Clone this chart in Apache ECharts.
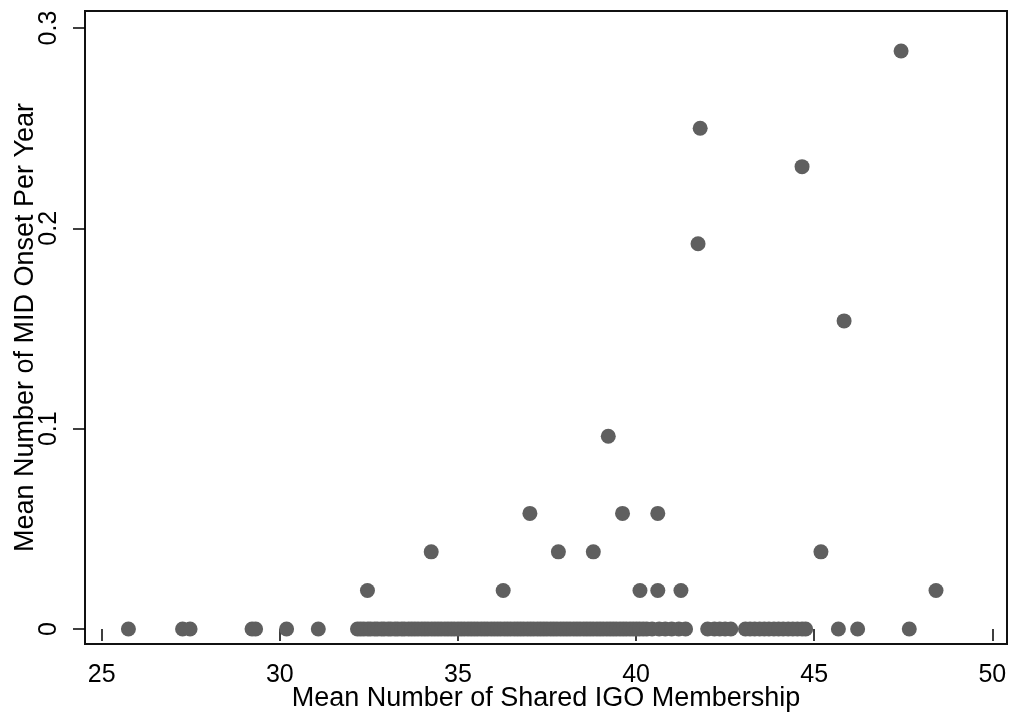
<!DOCTYPE html>
<html>
<head>
<meta charset="utf-8">
<script src="https://cdn.jsdelivr.net/npm/echarts@6/dist/echarts.min.js"></script>
<style>
html,body{margin:0;padding:0;background:#fff;}
#chart{width:1013px;height:723px;}
</style>
</head>
<body>
<div id="chart"></div>
<script>
// Points with zero MID onsets (at y = 0)
var zeroX = [25.75, 27.27, 27.48, 29.22, 29.32, 30.19, 31.08,
  32.18, 32.27, 32.36, 32.47, 32.55, 32.66, 32.74, 32.85, 32.93, 33.04, 33.12, 33.23,
  33.31, 33.42, 33.5, 33.61, 33.7, 33.79, 33.88, 33.98, 34.07, 34.16, 34.26, 34.35,
  34.44, 34.53, 34.63, 34.72, 34.81, 34.9, 35.0, 35.09, 35.18, 35.28, 35.37, 35.46,
  35.55, 35.65, 35.74, 35.83, 35.93, 36.02, 36.11, 36.2, 36.3, 36.39, 36.48, 36.58,
  36.67, 36.76, 36.85, 36.95, 37.04, 37.13, 37.23, 37.32, 37.41, 37.5, 37.6, 37.69,
  37.78, 37.88, 37.97, 38.06, 38.15, 38.25, 38.34, 38.43, 38.53, 38.62, 38.71, 38.8,
  38.9, 38.99, 39.08, 39.18, 39.27, 39.36, 39.45, 39.55, 39.64, 39.73, 39.83, 39.92,
  40.01, 40.1, 40.2, 40.3, 40.45, 40.65, 40.82, 41.0, 41.2, 41.39,
  42.01, 42.2, 42.35, 42.5, 42.66, 43.07, 43.2, 43.33, 43.47, 43.6, 43.73, 43.87,
  44.0, 44.13, 44.27, 44.4, 44.53, 44.66, 44.76,
  45.68, 46.22, 47.67];
// Points with non-zero MID onsets
var nzX = [32.46, 34.25, 36.27, 37.02, 37.82, 38.80, 39.22, 39.62, 40.11, 40.61, 40.61, 41.26,
  41.74, 41.80, 44.66, 45.19, 45.84, 47.44, 48.42];
var nzY = [0.0192, 0.0385, 0.0192, 0.0577, 0.0385, 0.0385, 0.0962, 0.0577, 0.0192, 0.0577, 0.0192, 0.0192,
  0.1923, 0.25, 0.2308, 0.0385, 0.1538, 0.2885, 0.0192];
var xTicks = [25, 30, 35, 40, 45, 50];
var yTicks = [0, 0.1, 0.2, 0.3];
var xTitle = 'Mean Number of Shared IGO Membership';
var yTitle = 'Mean Number of MID Onset Per Year';

var data = [];
zeroX.forEach(function (x) { data.push([x, 0]); });
nzX.forEach(function (x, i) { data.push([x, nzY[i]]); });

var font = 'Liberation Sans, Arial, sans-serif';
var chart = echarts.init(document.getElementById('chart'), null, {renderer: 'canvas'});
chart.setOption({
  animation: false,
  backgroundColor: '#fff',
  grid: {
    left: 85, right: 6, top: 11, bottom: 79,
    containLabel: false, outerBoundsMode: 'none',
    show: true, borderColor: '#111', borderWidth: 2, backgroundColor: '#fff'
  },
  xAxis: {
    type: 'value', min: 24.531, max: 50.413,
    axisLine: {show: false},
    splitLine: {show: false},
    axisTick: {show: true, customValues: xTicks, length: 12, lineStyle: {color: '#000', width: 1.5}},
    axisLabel: {customValues: xTicks, fontSize: 25, color: '#000', margin: 19, fontFamily: font},
    name: xTitle, nameLocation: 'middle', nameGap: 41, nameMoveOverlap: false,
    nameTextStyle: {fontSize: 27, color: '#000', fontFamily: font}
  },
  yAxis: {
    type: 'value', min: -0.0075, max: 0.3085,
    axisLine: {show: false},
    splitLine: {show: false},
    axisTick: {show: true, customValues: yTicks, length: 12, lineStyle: {color: '#000', width: 1.5}},
    axisLabel: {
      customValues: yTicks, fontSize: 25, color: '#000', margin: 23, rotate: 90, fontFamily: font,
      formatter: function (v) { return String(Math.round(v * 10) / 10); }
    },
    name: yTitle, nameLocation: 'middle', nameGap: 46, nameRotate: 90, nameMoveOverlap: false,
    nameTextStyle: {fontSize: 27, color: '#000', fontFamily: font}
  },
  series: [{
    type: 'scatter',
    data: data,
    symbol: 'circle',
    symbolSize: 15,
    itemStyle: {color: '#5f5f5f', opacity: 1}
  }]
});
</script>
</body>
</html>
